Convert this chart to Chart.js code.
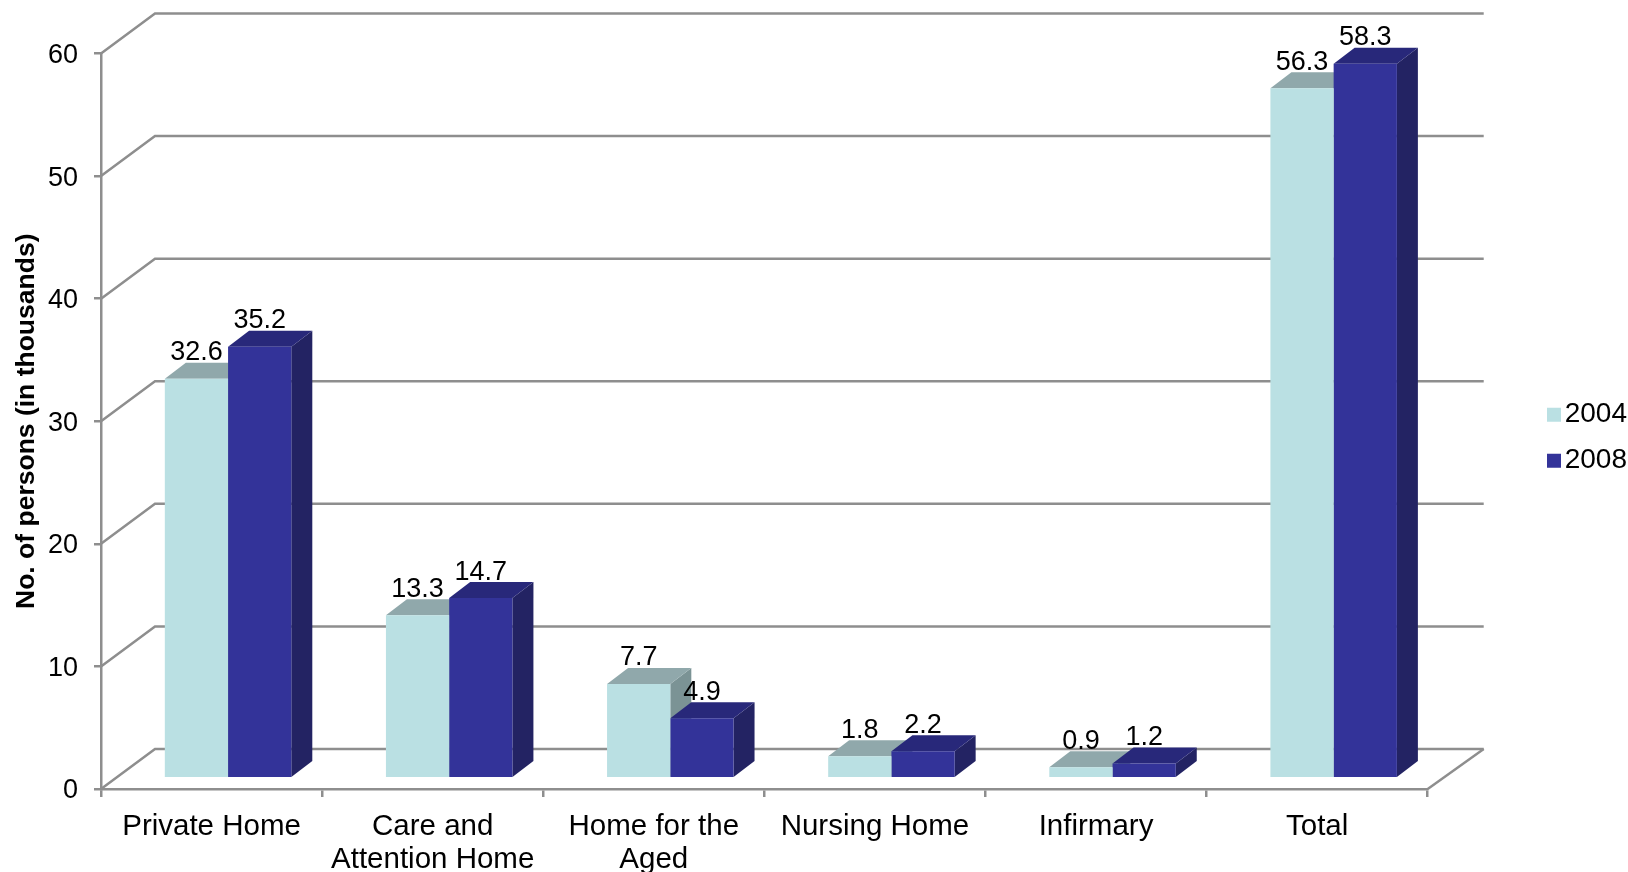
<!DOCTYPE html>
<html>
<head>
<meta charset="utf-8">
<style>
  html, body { margin: 0; padding: 0; background: #fff; overflow: hidden; }
  canvas { display: block; }
</style>
<script src="https://cdn.jsdelivr.net/npm/chart.js@4"></script>
</head>
<body>
<canvas id="chart" width="1628" height="872"></canvas>
<script>
const categories = ["Private Home", ["Care and", "Attention Home"], ["Home for the", "Aged"], "Nursing Home", "Infirmary", "Total"];
const values2004 = [32.6, 13.3, 7.7, 1.8, 0.9, 56.3];
const values2008 = [35.2, 14.7, 4.9, 2.2, 1.2, 58.3];
const yTicks = [0, 10, 20, 30, 40, 50, 60];

const FONT = "'Liberation Sans', Arial, sans-serif";
const GRID = "#8e8e8e";

// the fake 3D look: wall sits behind the axes, bars stand on the floor
const wall = { dx: 54, dy: -40, rightDx: 56 };
const barShift = { dx: 16.5, dy: -10.7 };
const barDepth = { dx: 21, dy: -16 };

const faces = {
  "2004": { front: "#bae0e3", top: "#90a8ab", side: "#7b9395" },
  "2008": { front: "#333399", top: "#28287a", side: "#232363" }
};

function poly(ctx, pts, fill) {
  ctx.fillStyle = fill;
  ctx.beginPath();
  pts.forEach((p, i) => (i ? ctx.lineTo(p[0], p[1]) : ctx.moveTo(p[0], p[1])));
  ctx.closePath();
  ctx.fill();
}

const walls3d = {
  id: "walls3d",
  afterLayout(chart) {
    // legend sits far right, away from the plot
    const legend = chart.legend;
    legend.left = 1529;
    legend.right = 1627;
    legend.top -= 25;
    legend.bottom -= 25;
    // y tick text sits a bit lower than the tick marks
    chart.scales.y.getLabelItems().forEach((item) => {
      item.options.translation[1] += 2;
    });
  },
  beforeDatasetsDraw(chart) {
    const ctx = chart.ctx;
    const y = chart.scales.y;
    const a = chart.chartArea;
    ctx.save();
    ctx.strokeStyle = GRID;
    ctx.lineWidth = 2.5;
    yTicks.forEach((v) => {
      const py = y.getPixelForValue(v);
      ctx.beginPath();
      ctx.moveTo(a.left, py);
      ctx.lineTo(a.left + wall.dx, py + wall.dy);
      ctx.lineTo(a.right + wall.rightDx, py + wall.dy);
      ctx.stroke();
    });
    // floor right edge
    const py0 = y.getPixelForValue(0);
    ctx.beginPath();
    ctx.moveTo(a.right, py0);
    ctx.lineTo(a.right + wall.rightDx, py0 + wall.dy);
    ctx.stroke();
    ctx.restore();

    // tops and sides go down first, 2004 then 2008; the library paints the fronts over them
    ctx.save();
    ctx.translate(barShift.dx, barShift.dy);
    chart.data.datasets.forEach((ds, i) => {
      const f = faces[ds.label];
      const d = barDepth;
      chart.getDatasetMeta(i).data.forEach((bar) => {
        const l = bar.x - bar.width / 2;
        const r = bar.x + bar.width / 2;
        poly(ctx, [[r, bar.y], [r + d.dx, bar.y + d.dy], [r + d.dx, bar.base + d.dy], [r, bar.base]], f.side);
        poly(ctx, [[l, bar.y], [r, bar.y], [r + d.dx, bar.y + d.dy], [l + d.dx, bar.y + d.dy]], f.top);
      });
    });
    ctx.restore();
  },
  beforeDatasetDraw(chart) {
    chart.ctx.save();
    chart.ctx.translate(barShift.dx, barShift.dy);
  },
  afterDatasetDraw(chart) {
    chart.ctx.restore();
  },
  afterDatasetsDraw(chart) {
    const ctx = chart.ctx;
    ctx.save();
    ctx.font = "27px " + FONT;
    ctx.fillStyle = "#000";
    ctx.textAlign = "center";
    ctx.textBaseline = "alphabetic";
    chart.data.datasets.forEach((ds, i) => {
      chart.getDatasetMeta(i).data.forEach((bar, j) => {
        ctx.fillText(ds.data[j].toFixed(1), bar.x + barShift.dx, bar.y + barShift.dy + barDepth.dy - 2.5);
      });
    });
    ctx.restore();
  }
};

new Chart(document.getElementById("chart"), {
  type: "bar",
  data: {
    labels: categories,
    datasets: [
      { label: "2004", data: values2004, backgroundColor: faces["2004"].front, clip: false },
      { label: "2008", data: values2008, backgroundColor: faces["2008"].front, clip: false }
    ]
  },
  plugins: [walls3d],
  options: {
    responsive: false,
    animation: false,
    layout: { padding: { top: 53.5, right: 82, left: 0, bottom: 0 } },
    datasets: { bar: { barPercentage: 1, categoryPercentage: 0.572 } },
    plugins: {
      tooltip: { enabled: false },
      legend: {
        position: "right",
        labels: {
          boxWidth: 14,
          boxHeight: 14,
          padding: 18,
          textAlign: "right",
          color: "#000",
          font: { family: FONT, size: 28 }
        }
      }
    },
    scales: {
      x: {
        afterFit(scale) { scale.height = 83; },
        grid: { drawOnChartArea: false, color: GRID, lineWidth: 2.5, tickLength: 8, offset: true },
        border: { color: GRID, width: 2.5 },
        ticks: { color: "#000", font: { family: FONT, size: 29.5, lineHeight: 1.125 }, padding: 13, maxRotation: 0, autoSkip: false }
      },
      y: {
        min: 0,
        max: 60,
        afterFit(scale) { scale.width = 101; },
        afterBuildTicks(scale) { scale.ticks = yTicks.map((v) => ({ value: v })); },
        grid: { drawOnChartArea: false, color: GRID, lineWidth: 2.5, tickLength: 7 },
        border: { color: GRID, width: 2.5 },
        ticks: { color: "#000", font: { family: FONT, size: 27 }, padding: 16 },
        title: {
          display: true,
          text: "No. of persons (in thousands)",
          color: "#000",
          font: { family: FONT, size: 26.5, weight: "bold" },
          padding: { top: 11, bottom: 0 }
        }
      }
    }
  }
});
</script>
</body>
</html>
